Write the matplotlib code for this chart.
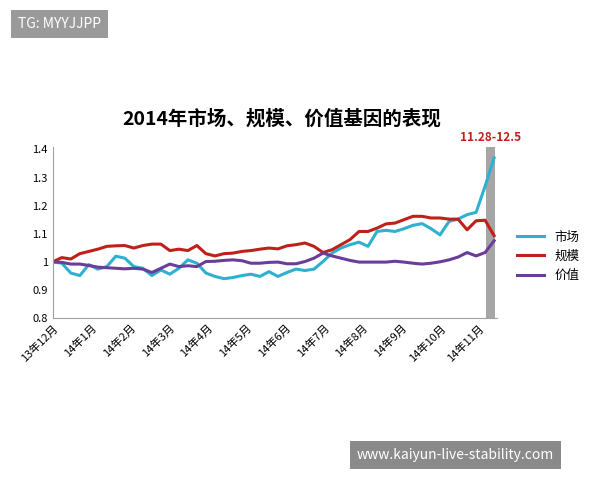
import matplotlib.pyplot as plt

plt.rcParams['font.family'] = ['Noto Sans CJK SC', 'DejaVu Sans']

market = [1.00, 0.995, 0.96, 0.951, 0.99, 0.974, 0.983, 1.02, 1.013, 0.983, 0.977, 0.951, 0.971, 0.956,
          0.977, 1.007, 0.995, 0.96, 0.948, 0.94, 0.944, 0.951, 0.956, 0.948, 0.965, 0.948, 0.962, 0.974,
          0.969, 0.974, 1.001, 1.031, 1.049, 1.061, 1.07, 1.055, 1.108, 1.112, 1.108, 1.118, 1.13, 1.136,
          1.118, 1.096, 1.144, 1.152, 1.168, 1.176, 1.269, 1.37]
scale = [1.0, 1.015, 1.01, 1.029, 1.037, 1.045, 1.055, 1.057, 1.058, 1.049, 1.058, 1.063, 1.063, 1.04,
         1.045, 1.04, 1.058, 1.029, 1.021, 1.029, 1.031, 1.037, 1.04, 1.045, 1.049, 1.046, 1.057, 1.061,
         1.067, 1.055, 1.033, 1.043, 1.061, 1.079, 1.108, 1.108, 1.12, 1.135, 1.138, 1.15, 1.162, 1.162,
         1.156, 1.156, 1.152, 1.152, 1.114, 1.146, 1.148, 1.093]
value = [1.0, 0.998, 0.992, 0.992, 0.987, 0.981, 0.979, 0.977, 0.975, 0.977, 0.974, 0.962, 0.977, 0.992,
         0.983, 0.986, 0.983, 1.001, 1.002, 1.005, 1.007, 1.004, 0.995, 0.995, 0.998, 0.999, 0.993, 0.993,
         1.001, 1.013, 1.031, 1.021, 1.013, 1.005, 0.999, 0.999, 0.999, 0.999, 1.002, 0.999, 0.995, 0.992,
         0.995, 1.0, 1.007, 1.017, 1.033, 1.021, 1.033, 1.075]
months = ['13年12月', '14年1月', '14年2月', '14年3月', '14年4月', '14年5月', '14年6月',
          '14年7月', '14年8月', '14年9月', '14年10月', '14年11月']
yticks = [0.8, 0.9, 1.0, 1.1, 1.2, 1.3, 1.4]
ylabels = ['0.8', '0.9', '1', '1.1', '1.2', '1.3', '1.4']

fig = plt.figure(figsize=(6, 4.8), dpi=100)
ax = fig.add_axes([0.088, 0.3375, 0.74, 0.357])

x = range(len(market))
ax.axvspan(48.1, 49.1, color='#a6a6a6', lw=0)
ax.plot(x, market, color='#2fb0d0', lw=2.2, label='市场')
ax.plot(x, scale, color='#c0201a', lw=2.2, label='规模')
ax.plot(x, value, color='#6a3d9a', lw=2.2, label='价值')

ax.set_xlim(0, 49.3)
ax.set_ylim(0.8, 1.41)
ax.set_yticks(yticks)
ax.set_yticklabels(ylabels, fontsize=8)
ax.set_xticks([i * 4.3 for i in range(len(months))])
ax.set_xticklabels(months, rotation=45, ha='right', rotation_mode='anchor', fontsize=8)
ax.tick_params(length=0)
for s in ['top', 'right']:
    ax.spines[s].set_visible(False)
for s in ['left', 'bottom']:
    ax.spines[s].set_color('#a0a0a0')

ax.text(48.6, 1.43, '11.28-12.5', color='#c0201a', fontsize=8.5, fontweight='bold', ha='center')
fig.text(0.47, 0.74, '2014年市场、规模、价值基因的表现', fontsize=14, fontweight='bold', ha='center')
ax.legend(loc='center left', bbox_to_anchor=(1.02, 0.36), frameon=False, fontsize=9, handlelength=2.2)

fig.text(0.03, 0.95, 'TG: MYYJJPP', color='white', fontsize=10, va='center',
         bbox=dict(facecolor='#9a9a9a', edgecolor='none', pad=5))
fig.text(0.595, 0.053, 'www.kaiyun-live-stability.com', color='white', fontsize=10, va='center',
         bbox=dict(facecolor='#8a8a8a', edgecolor='none', pad=5))

plt.savefig('out.png', dpi=100)
